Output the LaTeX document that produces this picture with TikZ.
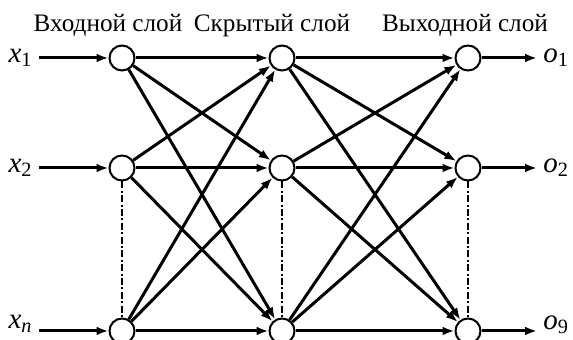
\documentclass[tikz,border=0pt]{standalone}
\usepackage{fontspec}
\setmainfont{Liberation Serif}
\usetikzlibrary{arrows.meta}
\begin{document}
\begin{tikzpicture}[
        x=0.5pt, y=-0.5pt,
        >={Latex[length=6pt,width=4.4pt]},
        neuron/.style={circle, draw, line width=1pt, minimum size=12.5pt, inner sep=0pt, fill=white},
        edge/.style={->, line width=1.5pt},
        link/.style={line width=1pt, dash pattern=on 3.5pt off 1.2pt on 1pt off 1.2pt},
        signal/.style={inner sep=3pt, font=\fontsize{14.5}{16}\selectfont},
        title/.style={anchor=base, font=\fontsize{12.6}{14}\selectfont}
        ]
      \useasboundingbox (0,0) rectangle (573,340);
      % layer captions
      \node[title] (tin) at (108,32) {Входной слой};
      \node[title] (thid) at (272,32) {Скрытый слой};
      \node[title] (tout) at (465,32) {Выходной слой};
      % neurons
      \node[neuron] (i1) at (122,58) {};
      \node[neuron] (i2) at (122,168) {};
      \node[neuron] (i3) at (122,331) {};
      \node[neuron] (h1) at (282,58) {};
      \node[neuron] (h2) at (282,168) {};
      \node[neuron] (h3) at (282,331) {};
      \node[neuron] (o1) at (468,58) {};
      \node[neuron] (o2) at (468,168) {};
      \node[neuron] (o3) at (468,331) {};
      % inputs and outputs
      \node[signal, anchor=east] (x1) at (39,58) {\textit{x}\textsubscript{1}};
      \node[signal, anchor=east] (x2) at (39,168) {\textit{x}\textsubscript{2}};
      \node[signal, anchor=east] (xn) at (39,324) {\textit{x\textsubscript{n}}};
      \node[signal, anchor=west] (y1) at (537,58) {\textit{o}\textsubscript{1}};
      \node[signal, anchor=west] (y2) at (537,168) {\textit{o}\textsubscript{2}};
      \node[signal, anchor=west] (y3) at (537,325) {\textit{o}\textsubscript{9}};
      % omitted neurons
      \draw[link] (i2) -- (i3);
      \draw[link] (h2) -- (h3);
      \draw[link] (o2) -- (o3);
      % connections
      \draw[edge] (x1) -- (i1);
      \draw[edge] (x2) -- (i2);
      \draw[edge] (xn.east |- i3) -- (i3);
      \draw[edge] (i1) -- (h1);
      \draw[edge] (i1) -- (h2);
      \draw[edge] (i1) -- (h3);
      \draw[edge] (i2) -- (h1);
      \draw[edge] (i2) -- (h2);
      \draw[edge] (i2) -- (h3);
      \draw[edge] (i3) -- (h1);
      \draw[edge] (i3) -- (h2);
      \draw[edge] (i3) -- (h3);
      \draw[edge] (h1) -- (o1);
      \draw[edge] (h1) -- (o2);
      \draw[edge] (h1) -- (o3);
      \draw[edge] (h2) -- (o1);
      \draw[edge] (h2) -- (o2);
      \draw[edge] (h2) -- (o3);
      \draw[edge] (h3) -- (o1);
      \draw[edge] (h3) -- (o2);
      \draw[edge] (h3) -- (o3);
      \draw[edge] (o1) -- (y1);
      \draw[edge] (o2) -- (y2);
      \draw[edge] (o3) -- (y3.west |- o3);
    \end{tikzpicture}
\end{document}
